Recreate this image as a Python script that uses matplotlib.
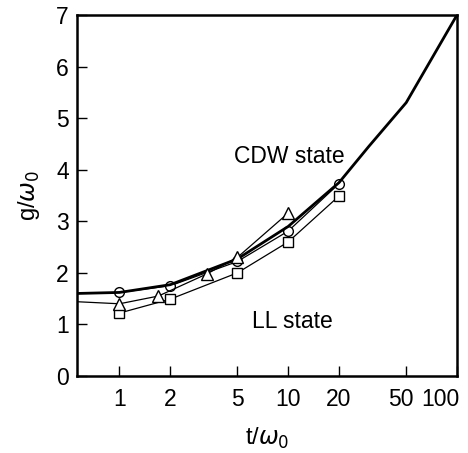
import matplotlib.pyplot as plt
import matplotlib.transforms as mtransforms

plt.rcParams['font.family'] = ['Liberation Sans', 'DejaVu Sans']

# phase boundary (thick line)
t_boundary = [0.56, 1, 2, 5, 10, 20, 30, 50, 100]
g_boundary = [1.60, 1.62, 1.77, 2.27, 2.90, 3.75, 4.45, 5.30, 7.00]

# circles
t_circ = [1, 2, 5, 10, 20]
g_circ = [1.62, 1.75, 2.22, 2.81, 3.73]

# triangles (line starts at left edge)
t_tri = [0.56, 1, 1.7, 3.3, 5, 10]
g_tri = [1.44, 1.40, 1.55, 1.98, 2.30, 3.16]

# squares
t_sq = [1, 2, 5, 10, 20]
g_sq = [1.22, 1.49, 2.00, 2.60, 3.49]

fig = plt.figure(figsize=(4.68, 4.53), dpi=100)
ax = fig.add_axes([0.1645, 0.17, 0.812, 0.797])

ax.plot(t_boundary, g_boundary, color='black', lw=2.0, zorder=3)
ax.plot(t_circ, g_circ, color='black', lw=0.9, marker='o', ms=7,
        mfc='white', mec='black', mew=1.0)
ax.plot(t_tri[1:], g_tri[1:], color='black', lw=0.9, marker='^', ms=8,
        mfc='white', mec='black', mew=1.0, linestyle='none', zorder=4)
ax.plot(t_tri, g_tri, color='black', lw=0.9, zorder=2)
ax.plot(t_sq, g_sq, color='black', lw=0.9, marker='s', ms=7,
        mfc='white', mec='black', mew=1.0)

ax.set_xscale('log')
ax.set_xlim(0.56, 100)
ax.set_ylim(0, 7)
ax.set_xticks([1, 2, 5, 10, 20, 50, 100])
ax.set_xticklabels(['1', '2', '5', '10', '20', '50', '100'])
ax.xaxis.set_minor_locator(plt.NullLocator())
ax.set_yticks(range(0, 8))

ax.tick_params(direction='in', length=7, width=1, labelsize=16.5)
ax.tick_params(axis='x', pad=9)
ax.tick_params(axis='y', pad=6)
labels = ax.get_xticklabels()
labels[-1].set_horizontalalignment('right')
labels[-1].set_transform(labels[-1].get_transform()
                         + mtransforms.ScaledTranslation(0.02, 0, fig.dpi_scale_trans))
labels[-2].set_transform(labels[-2].get_transform()
                         + mtransforms.ScaledTranslation(-0.05, 0, fig.dpi_scale_trans))
for s in ax.spines.values():
    s.set_linewidth(1.8)

ax.text(0.56, 0.607, 'CDW state', transform=ax.transAxes, fontsize=16.5,
        ha='center', va='center')
ax.text(0.566, 0.15, 'LL state', transform=ax.transAxes, fontsize=16.5,
        ha='center', va='center')

ax.set_xlabel(r't/$\omega_0$', fontsize=17, labelpad=10)
ax.set_ylabel(r'g/$\omega_0$', fontsize=17, labelpad=10)

fig.savefig('out.png', dpi=100)
